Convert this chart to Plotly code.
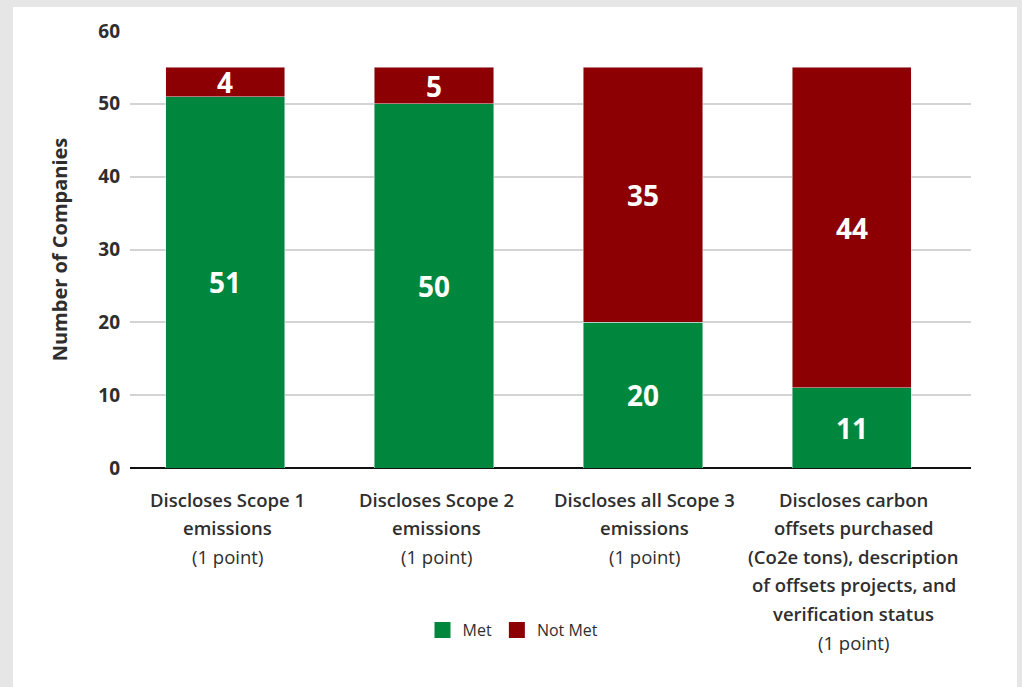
import plotly.graph_objects as go

# Disclosure criteria (each worth one point)
categories = ["Scope 1", "Scope 2", "Scope 3", "Offsets"]
category_lines = [
    ["Discloses Scope 1", "emissions"],
    ["Discloses Scope 2", "emissions"],
    ["Discloses all Scope 3", "emissions"],
    ["Discloses carbon", "offsets purchased", "(Co2e tons), description",
     "of offsets projects, and", "verification status"],
]
points_note = "(1 point)"

met = [51, 50, 20, 11]
not_met = [4, 5, 35, 44]

y_ticks = [0, 10, 20, 30, 40, 50, 60]

GREEN = "#00873E"
RED = "#8C0004"
TEXT = "#2e2e2e"
FONT = "Open Sans"

fig = go.Figure()

for name, vals, color in [("Met", met, GREEN), ("Not Met", not_met, RED)]:
    fig.add_trace(go.Bar(
        x=categories, y=vals, name=name, marker_color=color,
        text=vals, textposition="inside",
        insidetextanchor="middle", textangle=0,
        textfont=dict(color="white", size=28, family=FONT, weight=700),
        showlegend=False,
    ))

# Legend entries with larger square swatches
for name, color in [("Met", GREEN), ("Not Met", RED)]:
    fig.add_trace(go.Scatter(
        x=[None], y=[None], mode="markers", name=name,
        marker=dict(symbol="square", size=16, color=color),
    ))

# Multi-line category labels beneath the axis
annotations = []
for cat, lines in zip(categories, category_lines):
    all_lines = [(l, 600) for l in lines] + [(points_note, 400)]
    for i, (line, weight) in enumerate(all_lines):
        annotations.append(dict(
            x=cat, xref="x", y=0, yref="paper",
            yanchor="middle", xanchor="center",
            xshift=2, yshift=-(31 + 28.6 * i),
            text=line,
            showarrow=False,
            font=dict(family=FONT, size=18.5, color=TEXT, weight=weight),
        ))

# White card on a light grey surround
shapes = [dict(
    type="rect", xref="paper", yref="paper",
    x0=(13 - 130) / 841, x1=(1017 - 130) / 841,
    y0=(468 - 700) / 437, y1=(468 - 7) / 437,
    fillcolor="white", line_width=0, layer="below",
)]

fig.update_layout(
    width=1022, height=687,
    margin=dict(l=130, r=51, t=31, b=219),
    paper_bgcolor="#e6e6e6",
    plot_bgcolor="rgba(0,0,0,0)",
    barmode="stack",
    bargap=0.43,
    font=dict(family=FONT, color=TEXT),
    annotations=annotations,
    shapes=shapes,
    legend=dict(
        orientation="h", traceorder="normal",
        x=(513 - 130) / 841, xanchor="center",
        y=(468 - 630) / 437, yanchor="middle",
        font=dict(family=FONT, size=16, color=TEXT),
        bgcolor="rgba(0,0,0,0)",
        itemwidth=30, tracegroupgap=0,
    ),
    xaxis=dict(
        range=[-0.455, 3.57],
        showticklabels=False,
        showgrid=False,
        showline=False,
        zeroline=False,
    ),
    yaxis=dict(
        range=[0, 60],
        tickvals=y_ticks,
        tickfont=dict(family=FONT, size=19, color=TEXT, weight=700),
        ticks="", ticklabelstandoff=9,
        showgrid=True, gridcolor="#d4d4d4", gridwidth=2,
        zeroline=True, zerolinecolor="#111111", zerolinewidth=2,
        title=dict(text="Number of Companies",
                   font=dict(family=FONT, size=20, color=TEXT, weight=700),
                   standoff=25),
    ),
    uniformtext=dict(minsize=28, mode="show"),
)

fig.write_html("out.html")
